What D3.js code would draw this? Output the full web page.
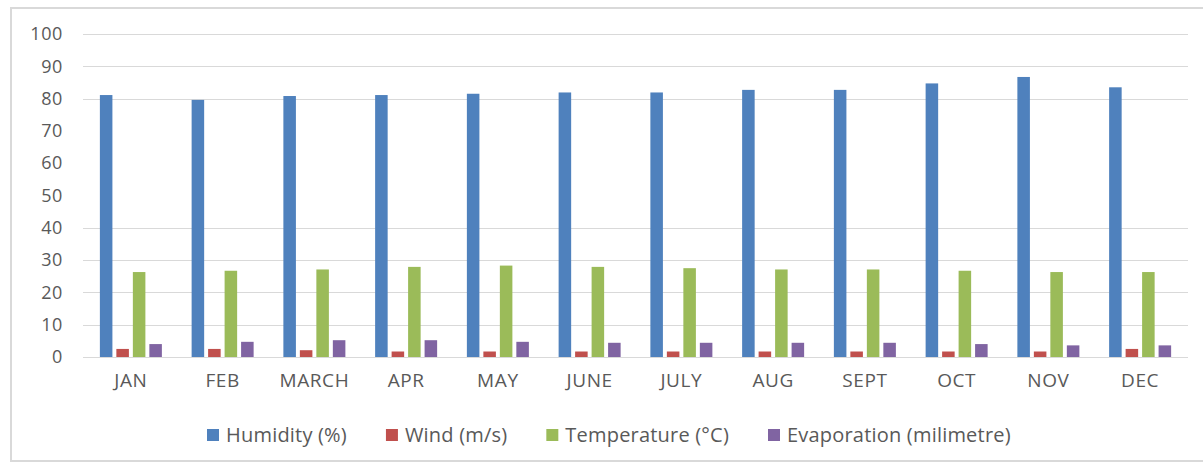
<!DOCTYPE html>
<html>
<head>
<meta charset="utf-8">
<script src="https://cdn.jsdelivr.net/npm/d3@7"></script>
<style>
  body { margin: 0; background: #fff; }
  text { font-family: "Open Sans", sans-serif; fill: #595959; }
</style>
</head>
<body>
<div id="chart"></div>
<script>
// Data
var months = ["JAN", "FEB", "MARCH", "APR", "MAY", "JUNE", "JULY", "AUG", "SEPT", "OCT", "NOV", "DEC"];
var seriesNames = ["Humidity (%)", "Wind (m/s)", "Temperature (°C)", "Evaporation (milimetre)"];
var humidity = [81.1, 79.6, 80.8, 81.1, 81.5, 81.9, 81.9, 82.7, 82.7, 84.7, 86.7, 83.5];
var wind = [2.5, 2.5, 2.1, 1.7, 1.7, 1.7, 1.7, 1.7, 1.7, 1.7, 1.7, 2.5];
var temperature = [26.3, 26.7, 27.1, 27.9, 28.3, 27.9, 27.5, 27.1, 27.1, 26.7, 26.3, 26.3];
var evaporation = [4.0, 4.7, 5.2, 5.2, 4.7, 4.4, 4.4, 4.4, 4.4, 4.0, 3.6, 3.6];
var yTicks = [0, 10, 20, 30, 40, 50, 60, 70, 80, 90, 100];
var gridTicks = [10, 20, 30, 40, 80, 90, 100]; // kun disse linjer ses i billedet
var colors = ["#4f81bd", "#c0504d", "#9bbb59", "#8064a2"];

var w = 1203;
var h = 463;

var svg = d3.select("#chart")
    .append("svg")
    .attr("width", w)
    .attr("height", h);

// ramme
svg.append("rect")
    .attr("x", 11)
    .attr("y", 8)
    .attr("width", 1250)
    .attr("height", 453)
    .style("fill", "none")
    .style("stroke", "#d9d9d9")
    .style("stroke-width", 2);

var plotLeft = 85, plotRight = 1186, plotTop = 34, plotBottom = 357;

var xScale = d3.scaleBand().domain(months).range([plotLeft, plotRight]);
var inner = d3.scaleBand().domain(seriesNames).range([0, 62]).paddingInner(0.24);
var yScale = d3.scaleLinear().domain([0, 100]).range([plotBottom, plotTop]);

var rows = months.map(function (m, i) {
    return { month: m, values: [humidity[i], wind[i], temperature[i], evaporation[i]] };
});

// gridlines
svg.append("g")
    .selectAll("line")
    .data(gridTicks)
    .enter()
    .append("line")
    .attr("x1", plotLeft - 2)
    .attr("x2", plotRight + 2)
    .attr("y1", function (d) { return Math.round(yScale(d)) + 0.5; })
    .attr("y2", function (d) { return Math.round(yScale(d)) + 0.5; })
    .style("stroke", "#d9d9d9")
    .style("stroke-width", 1);

// y-akse
var yAxis = svg.append("g")
    .attr("transform", "translate(" + 63 + ",0)")
    .call(d3.axisLeft(yScale).tickValues(yTicks).tickSize(0).tickPadding(0));
yAxis.select(".domain").remove();
yAxis.selectAll("text")
    .style("font-size", "18px")
    .style("letter-spacing", "0.6px")
    .style("fill", "#595959")
    .style("font-family", "Open Sans");

// bars
var groups = svg.append("g")
    .selectAll("g")
    .data(rows)
    .enter()
    .append("g")
    .attr("transform", function (d) { return "translate(" + (xScale(d.month) + xScale.bandwidth() / 2 - 31) + ",0)"; });

groups.selectAll("rect")
    .data(function (d) { return d.values.map(function (v, j) { return { key: seriesNames[j], v: v, c: colors[j] }; }); })
    .enter()
    .append("rect")
    .attr("x", function (d) { return inner(d.key); })
    .attr("width", inner.bandwidth())
    .attr("y", function (d) { return yScale(d.v); })
    .attr("height", function (d) { return yScale(0) - yScale(d.v); })
    .style("fill", function (d) { return d.c; });

// baseline
svg.append("line")
    .attr("x1", plotLeft - 2)
    .attr("x2", plotRight + 2)
    .attr("y1", Math.round(yScale(0)) + 0.5)
    .attr("y2", Math.round(yScale(0)) + 0.5)
    .style("stroke", "#d9d9d9")
    .style("stroke-width", 1);

// x-akse
var xAxis = svg.append("g")
    .attr("transform", "translate(0," + 373 + ")")
    .call(d3.axisBottom(xScale).tickSize(0).tickPadding(0));
xAxis.select(".domain").remove();
xAxis.selectAll("text")
    .style("font-size", "19px")
    .style("letter-spacing", "0.6px")
    .style("fill", "#595959")
    .style("font-family", "Open Sans");

// legend
var legend = svg.append("g").attr("transform", "translate(0,435)");
var lx = 207;
seriesNames.forEach(function (name, i) {
    legend.append("rect")
        .attr("x", lx)
        .attr("y", -6)
        .attr("width", 12)
        .attr("height", 12)
        .style("fill", colors[i]);
    var t = legend.append("text")
        .attr("x", lx + 19)
        .attr("y", 0)
        .attr("dy", "0.35em")
        .style("font-size", "20px")
        .style("letter-spacing", "0.2px")
        .text(name);
    lx = lx + 19 + t.node().getComputedTextLength() + 39;
});
</script>
</body>
</html>
